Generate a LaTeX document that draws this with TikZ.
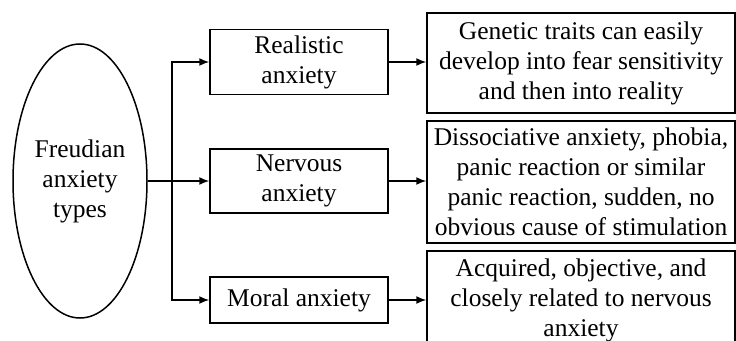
\documentclass[tikz,border=0pt]{standalone}
\usepackage{fontspec}
\setmainfont{Liberation Serif}
\usetikzlibrary{arrows.meta,positioning,shapes.geometric}
\tikzset{>=Latex}
\tikzset{
  typebox/.style={draw, line width=1.5pt, align=center, inner sep=2pt, minimum width=178pt},
  descbox/.style={draw, line width=1.5pt, align=center, inner sep=2pt, minimum width=308pt},
  rootell/.style={ellipse, draw, line width=1.5pt, align=center, inner sep=0pt,
                  minimum width=134pt, minimum height=274pt},
  arrow/.style={-{Latex[length=10pt,width=8pt]}, line width=1.5pt},
}

\begin{document}
\begin{tikzpicture}[x=1pt, y=-1pt, font=\fontsize{25.5}{30}\selectfont]
\useasboundingbox (0,0) rectangle (736,340);

% --- root ellipse ---
\node[rootell] (root) at (80,181) {Freudian\\anxiety\\types};

% --- the three anxiety types ---
\node[typebox, minimum height=65pt] (real)  at (299,62)  {Realistic\\anxiety};
\node[typebox, minimum height=64pt] (nerv)  at (299,181) {Nervous\\anxiety};
\node[typebox, minimum height=46pt] (moral) at (299,300) {Moral anxiety};

% --- descriptions ---
\node[descbox, minimum height=100pt] (descA) at (581,63)
  {Genetic traits can easily\\develop into fear sensitivity\\and then into reality};
\node[descbox, minimum height=122pt] (descB) at (581,182)
  {Dissociative anxiety, phobia,\\panic reaction or similar\\panic reaction, sudden, no\\obvious cause of stimulation};
\node[descbox, minimum height=98pt] (descC) at (581,300)
  {Acquired, objective, and\\closely related to nervous\\anxiety};

% --- connectors ---
\coordinate (split) at (172,181);
\draw[arrow] (root.east) -- (nerv.west);
\draw[arrow] (split) |- (real.west);
\draw[arrow] (split) |- (moral.west);

\draw[arrow] (real.east)  -- (real.east -| descA.west);
\draw[arrow] (nerv.east)  -- (nerv.east -| descB.west);
\draw[arrow] (moral.east) -- (moral.east -| descC.west);

\end{tikzpicture}
\end{document}
